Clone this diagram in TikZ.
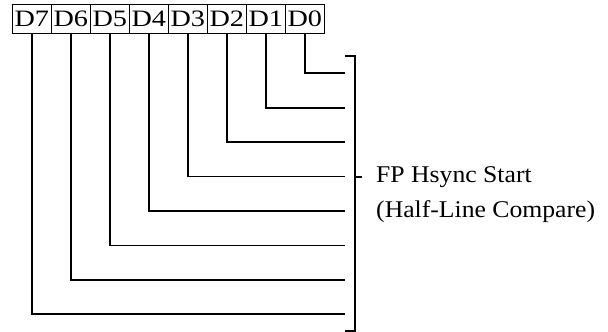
\documentclass[tikz,border=0pt]{standalone}
\usepackage{fontspec}
\setmainfont{Liberation Serif}
\begin{document}
\begin{tikzpicture}[x=1pt,y=-1pt,
  bitbox/.style={draw,line width=1.6pt,minimum width=39pt,minimum height=29pt,inner sep=0pt,font=\fontsize{23.5}{26}\selectfont},
  wire/.style={line width=1.8pt},
  sidetext/.style={anchor=west,inner sep=0pt,font=\fontsize{24}{27}\selectfont}]
\useasboundingbox (0,0) rectangle (608,332);
\foreach \b [count=\k from 0] in {7,6,5,4,3,2,1,0}{
  \node[bitbox] (b\b) at ({31.8+39*\k},18.8) {\scalebox{1.2}[1]{D\b}};
}
\foreach \b in {0,...,7}{
  \coordinate (e\b) at (345,{73.3+34.43*\b});
  \draw[wire] (b\b.south) |- (e\b);
}
\coordinate (bt) at (345,55.7);
\coordinate (bb) at (345,331);
\coordinate (bm) at (355,176.7);
\coordinate (tk) at (362,176.7);
\draw[wire] (bt) -| (bm) |- (bb);
\draw[wire] (bm) -- (tk);
\node[sidetext] (t1) at (376,176.7) {\scalebox{1.07}[1]{FP Hsync Start}};
\node[sidetext] (t2) at (376,211.5) {\scalebox{1.07}[1]{(Half-Line Compare)}};
\end{tikzpicture}
\end{document}
